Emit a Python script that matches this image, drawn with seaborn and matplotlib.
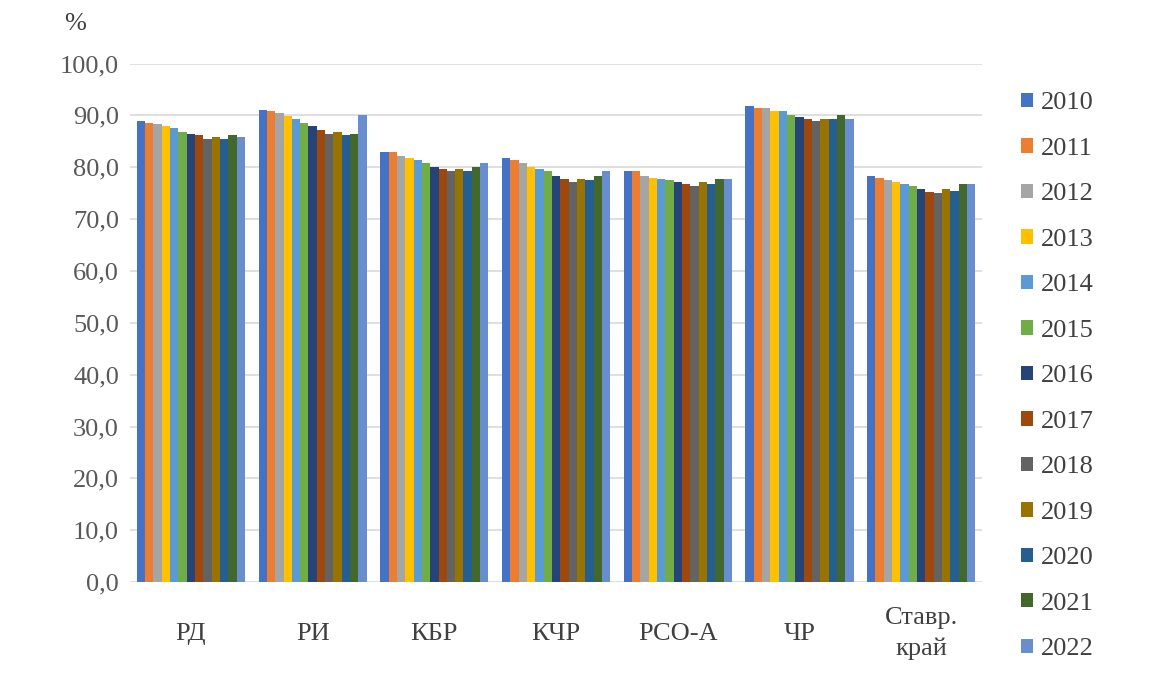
import matplotlib
matplotlib.use("Agg")
import matplotlib.pyplot as plt
import matplotlib.ticker as mticker
import seaborn as sns
import pandas as pd

regions = ["РД", "РИ", "КБР", "КЧР", "РСО-А", "ЧР", "Ставр.\nкрай"]
years = [str(y) for y in range(2010, 2023)]

# значения, %
rd = [88.9, 88.5, 88.3, 88.0, 87.6, 86.8, 86.4, 86.2, 85.5, 85.9, 85.5, 86.2, 85.9]
ri = [91.0, 90.8, 90.4, 89.8, 89.3, 88.5, 88.0, 87.2, 86.4, 86.8, 86.2, 86.4, 90.1]
kbr = [83.0, 83.0, 82.2, 81.8, 81.3, 80.9, 80.1, 79.6, 79.2, 79.7, 79.2, 80.1, 80.9]
kchr = [81.8, 81.3, 80.9, 80.1, 79.7, 79.2, 78.4, 77.7, 77.1, 77.7, 77.5, 78.4, 79.2]
rsoa = [79.2, 79.2, 78.4, 78.0, 77.7, 77.5, 77.1, 76.7, 76.3, 77.1, 76.7, 77.7, 77.7]
chr_ = [91.8, 91.4, 91.4, 90.8, 90.8, 90.1, 89.7, 89.3, 88.9, 89.3, 89.3, 90.1, 89.3]
stavr = [78.4, 78.0, 77.6, 77.1, 76.7, 76.3, 75.9, 75.2, 75.0, 75.9, 75.5, 76.7, 76.7]

colors = ["#4472C4", "#ED7D31", "#A5A5A5", "#FFC000", "#5B9BD5", "#70AD47",
          "#264478", "#9E480E", "#636363", "#997300", "#255E91", "#43682B",
          "#698ED0"]

rows = []
for reg, vals in zip(regions, [rd, ri, kbr, kchr, rsoa, chr_, stavr]):
    for yr, v in zip(years, vals):
        rows.append({"region": reg, "year": yr, "value": v})
df = pd.DataFrame(rows)

sns.set_theme(style="white")
plt.rcParams['font.family'] = ['Liberation Serif', 'DejaVu Serif']

fig = plt.figure(figsize=(11.62, 6.98), dpi=100)
ax = fig.add_axes([0.112, 0.166, 0.733, 0.743])

sns.barplot(data=df, x="region", y="value", hue="year", palette=colors,
            width=0.89, gap=0, saturation=1, errorbar=None, linewidth=0,
            ax=ax, zorder=3)

ax.set_ylim(0, 100)
ax.set_xlim(-0.5, 6.5)
ax.yaxis.set_major_locator(mticker.MultipleLocator(10))
ax.yaxis.set_major_formatter(mticker.FuncFormatter(lambda v, p: f"{v:.1f}".replace(".", ",")))
ax.grid(axis="y", color="#D9D9D9", linewidth=1.2, zorder=0)
for s in ax.spines.values():
    s.set_visible(False)
ax.tick_params(axis="y", length=0, pad=8, labelsize=19, labelcolor="#595959")
ax.tick_params(axis="x", length=0, pad=37, labelsize=19, labelcolor="#404040")
for lbl in ax.get_xticklabels():
    lbl.set_linespacing(1.45)
    lbl.set_verticalalignment("center")
ax.set_xlabel("")
ax.set_ylabel("")
fig.text(0.065, 0.965, "%", fontsize=19, color="#404040", ha="center", va="center")

ax.legend(loc="upper left", bbox_to_anchor=(1.018, 0.99), frameon=False,
          fontsize=19, labelspacing=0.89, handlelength=0.45, handleheight=0.45,
          handletextpad=0.3, labelcolor="#404040")

fig.savefig("out.png", dpi=100)
